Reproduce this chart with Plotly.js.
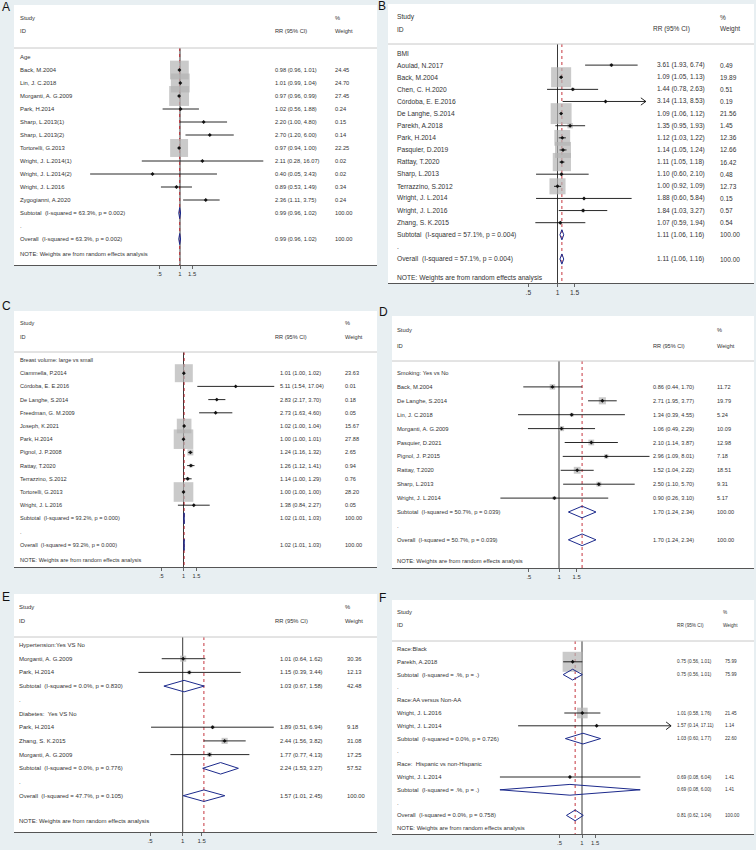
<!DOCTYPE html>
<html>
<head>
<meta charset="utf-8">
<script src="https://cdn.plot.ly/plotly-3.0.1.min.js"></script>
<style>
  html, body { margin: 0; padding: 0; background: #e8eff2; }
  #chart { width: 756px; height: 850px; }
</style>
</head>
<body>
<div id="chart"></div>
<script>
// A - Age
const ageLabel = ['Age', 'Back, M.2004', 'Lin, J. C.2018', 'Morganti, A. G.2009', 'Park, H.2014', 'Sharp, L.2013(1)', 'Sharp, L.2013(2)', 'Tortorelli, G.2013', 'Wright, J. L.2014(1)', 'Wright, J. L.2014(2)', 'Wright, J. L.2016', 'Zygogianni, A.2020', 'Subtotal  (I-squared = 63.3%, p = 0.002)', '.', 'Overall  (I-squared = 63.3%, p = 0.002)'];
const ageRR = [null, 0.98, 1.01, 0.97, 1.02, 2.20, 2.70, 0.97, 2.11, 0.40, 0.89, 2.36, 0.99, null, 0.99];
const ageLo = [null, 0.96, 0.99, 0.96, 0.56, 1.00, 1.20, 0.94, 0.28, 0.05, 0.53, 1.11, 0.96, null, 0.96];
const ageHi = [null, 1.01, 1.04, 0.99, 1.88, 4.80, 6.00, 1.00, 16.07, 3.43, 1.49, 3.75, 1.02, null, 1.02];
const ageWt = [null, 24.45, 24.70, 27.45, 0.24, 0.15, 0.14, 22.25, 0.02, 0.02, 0.34, 0.24, 100, null, 100];

// B - BMI
const bmiLabel = ['BMI', 'Aoulad, N.2017', 'Back, M.2004', 'Chen, C. H.2020', 'Córdoba, E. E.2016', 'De Langhe, S.2014', 'Parekh, A.2018', 'Park, H.2014', 'Pasquier, D.2019', 'Rattay, T.2020', 'Sharp, L.2013', 'Terrazzino, S.2012', 'Wright, J. L.2014', 'Wright, J. L.2016', 'Zhang, S. K.2015', 'Subtotal  (I-squared = 57.1%, p = 0.004)', '.', 'Overall  (I-squared = 57.1%, p = 0.004)'];
const bmiRR = [null, 3.61, 1.09, 1.44, 3.14, 1.09, 1.35, 1.12, 1.14, 1.11, 1.10, 1.00, 1.88, 1.84, 1.07, 1.11, null, 1.11];
const bmiLo = [null, 1.93, 1.05, 0.78, 1.13, 1.06, 0.95, 1.03, 1.05, 1.05, 0.60, 0.92, 0.60, 1.03, 0.59, 1.06, null, 1.06];
const bmiHi = [null, 6.74, 1.13, 2.63, 8.53, 1.12, 1.93, 1.22, 1.24, 1.18, 2.10, 1.09, 5.84, 3.27, 1.94, 1.16, null, 1.16];
const bmiWt = [null, 0.49, 19.89, 0.51, 0.19, 21.56, 1.45, 12.36, 12.66, 16.42, 0.48, 12.73, 0.15, 0.57, 0.54, 100, null, 100];

// C - Breast volume
const breastLabel = ['Breast volume: large vs small', 'Ciammella, P.2014', 'Córdoba, E. E.2016', 'De Langhe, S.2014', 'Freedman, G. M.2009', 'Joseph, K.2021', 'Park, H.2014', 'Pignol, J. P.2008', 'Rattay, T.2020', 'Terrazzino, S.2012', 'Tortorelli, G.2013', 'Wright, J. L.2016', 'Subtotal  (I-squared = 93.2%, p = 0.000)', '.', 'Overall  (I-squared = 93.2%, p = 0.000)'];
const breastRR = [null, 1.01, 5.11, 2.83, 2.73, 1.02, 1.00, 1.24, 1.26, 1.14, 1.00, 1.38, 1.02, null, 1.02];
const breastLo = [null, 1.00, 1.54, 2.17, 1.63, 1.00, 1.00, 1.16, 1.12, 1.00, 1.00, 0.84, 1.01, null, 1.01];
const breastHi = [null, 1.02, 17.04, 3.70, 4.60, 1.04, 1.01, 1.32, 1.41, 1.29, 1.00, 2.27, 1.03, null, 1.03];
const breastWt = [null, 23.63, 0.01, 0.18, 0.05, 15.67, 27.88, 2.65, 0.94, 0.76, 28.20, 0.05, 100, null, 100];

// D - Smoking
const smokeLabel = ['Smoking: Yes vs No', 'Back, M.2004', 'De Langhe, S.2014', 'Lin, J. C.2018', 'Morganti, A. G.2009', 'Pasquier, D.2021', 'Pignol, J. P.2015', 'Rattay, T.2020', 'Sharp, L.2013', 'Wright, J. L.2014', 'Subtotal  (I-squared = 50.7%, p = 0.039)', '.', 'Overall  (I-squared = 50.7%, p = 0.039)'];
const smokeRR = [null, 0.86, 2.71, 1.34, 1.06, 2.10, 2.96, 1.52, 2.50, 0.90, 1.70, null, 1.70];
const smokeLo = [null, 0.44, 1.95, 0.39, 0.49, 1.14, 1.09, 1.04, 1.10, 0.26, 1.24, null, 1.24];
const smokeHi = [null, 1.70, 3.77, 4.55, 2.29, 3.87, 8.01, 2.22, 5.70, 3.10, 2.34, null, 2.34];
const smokeWt = [null, 11.72, 19.79, 5.24, 10.09, 12.98, 7.18, 18.51, 9.31, 5.17, 100, null, 100];

// E - Hypertension / Diabetes
const comorbLabel = ['Hypertension:Yes VS No', 'Morganti, A. G.2009', 'Park, H.2014', 'Subtotal  (I-squared = 0.0%, p = 0.830)', '.', 'Diabetes:  Yes VS No', 'Park, H.2014', 'Zhang, S. K.2015', 'Morganti, A. G.2009', 'Subtotal  (I-squared = 0.0%, p = 0.776)', '.', 'Overall  (I-squared = 47.7%, p = 0.105)'];
const comorbRR = [null, 1.01, 1.15, 1.03, null, null, 1.89, 2.44, 1.77, 2.24, null, 1.57];
const comorbLo = [null, 0.64, 0.39, 0.67, null, null, 0.51, 1.56, 0.77, 1.53, null, 1.01];
const comorbHi = [null, 1.62, 3.44, 1.58, null, null, 6.94, 3.82, 4.13, 3.27, null, 2.45];
const comorbWt = [null, 30.36, 12.13, 42.48, null, null, 9.18, 31.08, 17.25, 57.52, null, 100];

// F - Race
const raceLabel = ['Race:Black', 'Parekh, A.2018', 'Subtotal  (I-squared = .%, p = .)', '.', 'Race:AA versus Non-AA', 'Wright, J. L.2016', 'Wright, J. L.2014', 'Subtotal  (I-squared = 0.0%, p = 0.726)', '.', 'Race:  Hispanic vs non-Hispanic', 'Wright, J. L.2014', 'Subtotal  (I-squared = .%, p = .)', '.', 'Overall  (I-squared = 0.0%, p = 0.758)'];
const raceRR = [null, 0.75, 0.75, null, null, 1.01, 1.57, 1.03, null, null, 0.69, 0.69, null, 0.81];
const raceLo = [null, 0.56, 0.56, null, null, 0.58, 0.14, 0.60, null, null, 0.08, 0.08, null, 0.62];
const raceHi = [null, 1.01, 1.01, null, null, 1.76, 17.11, 1.77, null, null, 6.04, 6.00, null, 1.04];
const raceWt = [null, 75.99, 75.99, null, null, 21.45, 1.14, 22.60, null, null, 1.41, 1.41, null, 100];

const tickVals = [0.5, 1, 1.5];
const tickText = ['.5', '1', '1.5'];

const W = 756, H = 850;
const FONT = 'Liberation Sans, Arial, sans-serif';

// layout of each panel, in pixels of the page
const panels = [
  {letter: 'A', lab: ageLabel, rr: ageRR, lo: ageLo, hi: ageHi, wt: ageWt,
   left: 14, right: 377, top: 5, axis: 265, row0: 57, step: 13.0, hStudy: 18, hId: 31, rule: 48, note: 254,
   one: 180, k: 30, cStudy: 18, cRR: 273, hRR: 273, cWt: 333, hWt: 333, fs: 5.9, cfs: 5.7, box: 3.8, lx: 6, ly: 7},
  {letter: 'B', lab: bmiLabel, rr: bmiRR, lo: bmiLo, hi: bmiHi, wt: bmiWt,
   left: 388, right: 754, top: 4, axis: 283, row0: 53, step: 12.12, hStudy: 17, hId: 29, rule: 44, note: 278,
   one: 557.5, k: 42, cStudy: 395, cRR: 655, hRR: 651, cWt: 718, hWt: 718, fs: 6.7, cfs: 6.5, box: 4.5, lx: 382, ly: 6, clip: 8.2},
  {letter: 'C', lab: breastLabel, rr: breastRR, lo: breastLo, hi: breastHi, wt: breastWt,
   left: 14, right: 377, top: 311, axis: 567, row0: 360, step: 13.2, hStudy: 323, hId: 337, rule: 352, note: 560,
   one: 183.5, k: 32, cStudy: 18, cRR: 278, hRR: 273, cWt: 343, hWt: 343, fs: 5.6, cfs: 5.6, box: 3.7, lx: 6, ly: 306},
  {letter: 'D', lab: smokeLabel, rr: smokeRR, lo: smokeLo, hi: smokeHi, wt: smokeWt,
   left: 392, right: 754, top: 316, axis: 568, row0: 373, step: 13.9, hStudy: 330, hId: 346, rule: 361, note: 561,
   one: 559, k: 43.5, cStudy: 395, cRR: 651, hRR: 651, cWt: 715, hWt: 715, fs: 5.8, cfs: 5.6, box: 1.6, lx: 383, ly: 312},
  {letter: 'E', lab: comorbLabel, rr: comorbRR, lo: comorbLo, hi: comorbHi, wt: comorbWt,
   left: 14, right: 377, top: 594, axis: 832, row0: 645, step: 13.7, hStudy: 607, hId: 621, rule: 637, note: 821,
   one: 182.7, k: 47, cStudy: 17, cRR: 278, hRR: 273, cWt: 345, hWt: 343, fs: 6, cfs: 5.8, box: 1.1, lx: 6, ly: 597},
  {letter: 'F', lab: raceLabel, rr: raceRR, lo: raceLo, hi: raceHi, wt: raceWt,
   left: 392, right: 754, top: 600, axis: 834, row0: 649, step: 12.8, hStudy: 612, hId: 625, rule: 641, note: 828,
   one: 582, k: 32.5, cStudy: 395, cRR: 675, hRR: 675, cWt: 723, hWt: 721, fs: 5.9, cfs: 4.7, box: 2.3, lx: 382, ly: 598, clip: 15.5}
];

const fmt = v => v.toFixed(2);
const traces = [];
const annotations = [];
const shapes = [];
const layout = {
  width: W, height: H,
  margin: {l: 0, r: 0, t: 0, b: 0},
  paper_bgcolor: '#e8eff2',
  plot_bgcolor: '#ffffff',
  showlegend: false,
  font: {family: FONT, color: '#333'}
};

panels.forEach((p, i) => {
  const n = i === 0 ? '' : String(i + 1);
  const xa = 'x' + n, ya = 'y' + n;
  const rowY = j => p.row0 + j * p.step;
  const text = (x, y, s, size) => annotations.push({
    xref: 'paper', yref: ya, x: x / W, y: y, text: s, showarrow: false,
    xanchor: 'left', yanchor: 'middle',
    font: {family: FONT, size: size || p.fs, color: '#333'}
  });

  layout['xaxis' + n] = {
    domain: [p.left / W, p.right / W], anchor: ya,
    type: 'log',
    range: [(p.left - p.one) / p.k / Math.LN10, (p.right - p.one) / p.k / Math.LN10],
    tickvals: tickVals, ticktext: tickText,
    ticks: 'outside', ticklen: 3, tickwidth: 0.8, tickcolor: '#444',
    tickfont: {family: FONT, size: p.fs, color: '#333'},
    showline: true, linecolor: '#555', linewidth: 1,
    showgrid: false, zeroline: false, fixedrange: true
  };
  layout['yaxis' + n] = {
    domain: [1 - p.axis / H, 1 - p.top / H], anchor: xa,
    range: [p.axis, p.top], visible: false, fixedrange: true
  };

  // header rule
  shapes.push({type: 'line', xref: 'paper', yref: ya, x0: p.left / W, x1: p.right / W,
    y0: p.rule, y1: p.rule, line: {color: '#c8c8c8', width: 1}});

  // headers
  text(p.cStudy, p.hStudy, 'Study');
  text(p.cStudy, p.hId, 'ID');
  text(p.hRR, p.hId, 'RR (95% CI)', p.cfs);
  text(p.hWt, p.hStudy, '%', p.cfs);
  text(p.hWt, p.hId, 'Weight', p.cfs);
  text(p.cStudy, p.note, 'NOTE: Weights are from random effects analysis');

  const overall = p.rr[p.rr.length - 1];

  // null line and overall line
  traces.push({x: [1, 1], y: [p.rule, p.axis], xaxis: xa, yaxis: ya, mode: 'lines',
    line: {color: '#222', width: 0.9}, hoverinfo: 'skip'});
  traces.push({x: [overall, overall], y: [p.rule, p.axis], xaxis: xa, yaxis: ya, mode: 'lines',
    line: {color: '#c0202a', width: 0.9, dash: 'dot'}, hoverinfo: 'skip'});

  const boxX = [], boxY = [], boxS = [];
  const ciX = [], ciY = [];
  const ptX = [], ptY = [];
  const dmX = [], dmY = [];

  p.lab.forEach((lab, j) => {
    const y = rowY(j);
    text(p.cStudy, y, lab.replace(/  /g, ' \u00a0'));
    const rr = p.rr[j];
    if (rr === null) return;
    text(p.cRR, y, `${fmt(rr)} (${fmt(p.lo[j])}, ${fmt(p.hi[j])})`, p.cfs);
    text(p.cWt, y, fmt(p.wt[j]), p.cfs);
    if (/^(Subtotal|Overall)/.test(lab)) {
      const h = 0.42 * p.step;
      dmX.push(p.lo[j], rr, p.hi[j], rr, p.lo[j], null);
      dmY.push(y, y - h, y, y + h, y, null);
      return;
    }
    boxX.push(rr); boxY.push(y); boxS.push(p.box * Math.sqrt(p.wt[j]));
    let hi = p.hi[j];
    if (p.clip && hi > p.clip) {
      hi = p.clip;
      const f = Math.exp(5 / p.k);
      ciX.push(hi / f, hi, hi / f, null);
      ciY.push(y - 0.3 * p.step, y, y + 0.3 * p.step, null);
    }
    ciX.push(p.lo[j], hi, null); ciY.push(y, y, null);
    ptX.push(rr); ptY.push(y);
  });

  traces.push({x: boxX, y: boxY, xaxis: xa, yaxis: ya, mode: 'markers', hoverinfo: 'skip',
    marker: {symbol: 'square', size: boxS, color: '#b4b4b4', line: {width: 0}}});
  traces.push({x: ciX, y: ciY, xaxis: xa, yaxis: ya, mode: 'lines', hoverinfo: 'skip',
    line: {color: '#111', width: 0.9}});
  traces.push({x: ptX, y: ptY, xaxis: xa, yaxis: ya, mode: 'markers', hoverinfo: 'skip',
    marker: {symbol: 'diamond', size: 3, color: '#111'}});
  traces.push({x: dmX, y: dmY, xaxis: xa, yaxis: ya, mode: 'lines', hoverinfo: 'skip',
    line: {color: '#1c2a8c', width: 1}});

  // panel letter
  annotations.push({xref: 'paper', yref: 'paper', x: p.lx / W, y: 1 - p.ly / H,
    text: p.letter, showarrow: false, xanchor: 'center', yanchor: 'middle',
    font: {family: FONT, size: 12, color: '#111'}});
});

layout.annotations = annotations;
layout.shapes = shapes;

Plotly.newPlot('chart', traces, layout, {displayModeBar: false, staticPlot: true});
</script>
</body>
</html>
